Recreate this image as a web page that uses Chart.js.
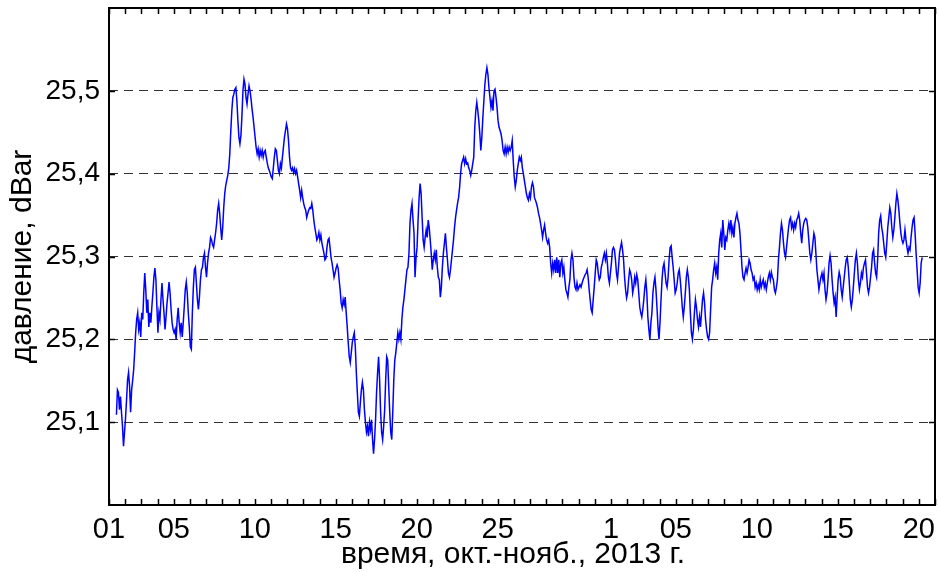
<!DOCTYPE html>
<html>
<head>
<meta charset="utf-8">
<script src="https://cdn.jsdelivr.net/npm/chart.js@4.4.1/dist/chart.umd.min.js"></script>
<style>
  html, body { margin: 0; padding: 0; background: #fff; }
  canvas { display: block; }
</style>
</head>
<body>
<canvas id="chart" width="939" height="572"></canvas>
<script>
// Bottom pressure record, one sample every 1.5 h, first sample 1 Oct 2013 11:00.
const firstSampleHour = 11;
const sampleStepHours = 1.5;

// Pressure, dBar
const pressure = [
  25.109, 25.139, 25.136, 25.115, 25.131, 25.112, 25.095, 25.071, 25.088, 25.105, 25.127, 25.151, 25.160, 25.143, 25.112, 25.139, 25.150, 25.163, 25.184, 25.208, 25.224, 25.232,
  25.212, 25.220, 25.203, 25.232, 25.224, 25.256, 25.280, 25.260, 25.232, 25.248,
  25.215, 25.232, 25.220, 25.239, 25.256, 25.275, 25.286, 25.272, 25.239,
  25.208, 25.232, 25.224, 25.248, 25.268, 25.248, 25.232, 25.212, 25.227, 25.244,
  25.256, 25.269, 25.256, 25.236, 25.220, 25.212, 25.208, 25.212, 25.200, 25.224,
  25.238, 25.220, 25.208, 25.220, 25.203, 25.220, 25.239, 25.260, 25.269, 25.256,
  25.232, 25.215, 25.191, 25.188, 25.232, 25.263, 25.284, 25.287, 25.268,
  25.248, 25.236, 25.251, 25.272, 25.284, 25.287, 25.299, 25.304, 25.287, 25.275,
  25.292, 25.304, 25.311, 25.323, 25.320, 25.314, 25.311, 25.320, 25.329, 25.340,
  25.356, 25.364, 25.352, 25.335, 25.320, 25.335, 25.359, 25.376, 25.386,
  25.392, 25.398, 25.407, 25.424, 25.452, 25.476, 25.492, 25.496, 25.502, 25.504,
  25.488, 25.464, 25.444,
  25.436, 25.446, 25.470, 25.500, 25.514, 25.508, 25.492, 25.484, 25.496, 25.506, 25.500, 25.490, 25.478, 25.468, 25.456, 25.444, 25.432, 25.424,
  25.430, 25.420, 25.428, 25.422, 25.428, 25.420, 25.426, 25.428, 25.420, 25.413, 25.407, 25.404, 25.400, 25.396, 25.394, 25.407, 25.420, 25.430, 25.428, 25.416,
  25.404, 25.400, 25.412, 25.407, 25.420, 25.432, 25.444, 25.452, 25.460, 25.454, 25.440, 25.420, 25.407, 25.404, 25.407, 25.401, 25.406, 25.400, 25.404, 25.396,
  25.388, 25.380, 25.371, 25.380, 25.371, 25.364, 25.359, 25.356, 25.347, 25.352, 25.356, 25.359, 25.358, 25.364, 25.356, 25.344, 25.335, 25.328, 25.320, 25.323,
  25.329, 25.320, 25.326, 25.316, 25.310, 25.304, 25.296, 25.298, 25.311, 25.320, 25.322, 25.311, 25.299, 25.292, 25.284, 25.275, 25.280, 25.286, 25.290, 25.286,
  25.272, 25.260, 25.244, 25.238, 25.248, 25.242, 25.251, 25.232, 25.215, 25.196, 25.179, 25.172, 25.184, 25.196, 25.203, 25.208, 25.191, 25.160, 25.136, 25.112,
  25.107, 25.124, 25.139, 25.148, 25.139, 25.115, 25.100, 25.088, 25.095, 25.083, 25.100, 25.091, 25.103, 25.080, 25.062, 25.079, 25.103, 25.136, 25.160, 25.179,
  25.151, 25.112, 25.088, 25.079, 25.095, 25.115, 25.151, 25.179, 25.175, 25.143,
  25.112, 25.088, 25.079, 25.112, 25.151, 25.175, 25.184, 25.196, 25.208, 25.200,
  25.208, 25.200, 25.224, 25.239, 25.248, 25.260, 25.272, 25.284, 25.287, 25.304,
  25.340, 25.356, 25.364, 25.344, 25.328,
  25.275, 25.299, 25.311, 25.344, 25.371, 25.388, 25.376, 25.347, 25.320, 25.311,
  25.323, 25.332, 25.323, 25.344, 25.335, 25.320, 25.304, 25.284, 25.296, 25.304,
  25.296, 25.308, 25.287, 25.275, 25.272, 25.251, 25.263, 25.287, 25.304, 25.316,
  25.328, 25.311, 25.296, 25.280, 25.275, 25.284, 25.296, 25.308, 25.320, 25.335,
  25.347, 25.356, 25.364, 25.371, 25.383, 25.400, 25.412, 25.416, 25.420, 25.412,
  25.418, 25.412, 25.413, 25.407, 25.404, 25.398, 25.404, 25.412, 25.420,
  25.456, 25.476, 25.486, 25.476, 25.464, 25.448, 25.428, 25.444, 25.468, 25.488,
  25.508, 25.520, 25.528, 25.520, 25.504, 25.492, 25.480, 25.488, 25.476, 25.500,
  25.502, 25.492, 25.480, 25.464, 25.456, 25.452, 25.448, 25.440, 25.428, 25.424,
  25.432, 25.424, 25.432, 25.426, 25.432,
  25.428, 25.432, 25.440, 25.416, 25.396, 25.384, 25.392, 25.404, 25.412, 25.420, 25.416, 25.420, 25.407, 25.400, 25.392, 25.384, 25.376, 25.371, 25.368, 25.376,
  25.371, 25.384, 25.389, 25.384, 25.371, 25.368, 25.364, 25.359, 25.352, 25.347, 25.340, 25.332, 25.323, 25.332, 25.338, 25.328, 25.320, 25.316, 25.320, 25.311,
  25.292, 25.280, 25.292, 25.284, 25.296, 25.280, 25.299, 25.280, 25.296, 25.275, 25.292, 25.296, 25.280, 25.287, 25.272, 25.260, 25.256, 25.251, 25.263, 25.272,
  25.296, 25.304, 25.296, 25.275, 25.263, 25.260, 25.268, 25.260, 25.263, 25.266, 25.263, 25.268, 25.272, 25.275, 25.278, 25.280, 25.284, 25.275, 25.260, 25.248,
  25.236, 25.232, 25.248, 25.263, 25.280, 25.296, 25.292, 25.280, 25.272, 25.275, 25.287, 25.292, 25.299, 25.304, 25.296, 25.304, 25.292, 25.275, 25.268, 25.280,
  25.292, 25.308, 25.311, 25.308, 25.296, 25.280, 25.272, 25.287, 25.304, 25.311, 25.317, 25.308, 25.296, 25.275, 25.260, 25.250, 25.256, 25.272, 25.284, 25.280,
  25.272, 25.256, 25.263, 25.275, 25.268, 25.278, 25.272, 25.256, 25.239, 25.232, 25.227, 25.236, 25.248,
  25.263, 25.272, 25.256, 25.227, 25.212, 25.200, 25.220, 25.232, 25.256, 25.268, 25.275, 25.260, 25.239, 25.215, 25.200, 25.220, 25.248, 25.272, 25.287, 25.292,
  25.280, 25.268, 25.263, 25.275, 25.296, 25.311, 25.313, 25.299, 25.287, 25.272, 25.256, 25.260, 25.268, 25.280, 25.284, 25.272, 25.256, 25.239, 25.227, 25.239,
  25.256, 25.275, 25.284, 25.275, 25.260, 25.232, 25.208, 25.200, 25.212, 25.232, 25.248, 25.239, 25.224, 25.215, 25.227, 25.215, 25.232, 25.248, 25.256, 25.244,
  25.224, 25.212, 25.203, 25.200, 25.208, 25.236, 25.263, 25.272, 25.284, 25.292, 25.280, 25.287, 25.272, 25.304, 25.320, 25.328, 25.311, 25.344, 25.328, 25.308,
  25.323, 25.320, 25.332, 25.340, 25.332, 25.344, 25.328, 25.335, 25.323, 25.340, 25.347, 25.352, 25.344, 25.340, 25.328, 25.308, 25.287, 25.275, 25.272, 25.280,
  25.286, 25.280, 25.287, 25.296, 25.292, 25.284, 25.280, 25.272, 25.275, 25.263, 25.268, 25.260, 25.266, 25.260, 25.272, 25.263, 25.268, 25.272, 25.263, 25.268,
  25.260, 25.268, 25.275, 25.280, 25.272, 25.281, 25.275, 25.272, 25.260, 25.256, 25.263, 25.272, 25.296,
  25.311, 25.328, 25.340, 25.332, 25.316, 25.304, 25.299, 25.311, 25.323, 25.335, 25.344, 25.347, 25.335, 25.340, 25.332, 25.340, 25.335, 25.344, 25.347, 25.352,
  25.344, 25.328, 25.316, 25.332, 25.340, 25.344, 25.346, 25.344, 25.335, 25.320, 25.304, 25.296, 25.304, 25.316, 25.328, 25.323, 25.304, 25.284, 25.272, 25.260,
  25.268, 25.275, 25.280, 25.272, 25.280, 25.260, 25.248, 25.256, 25.272, 25.292, 25.301, 25.292, 25.272, 25.256, 25.244, 25.251, 25.227, 25.251, 25.272, 25.281,
  25.275, 25.260, 25.251, 25.263, 25.275, 25.287, 25.296, 25.299, 25.287, 25.268, 25.248, 25.239, 25.248, 25.263, 25.280, 25.296, 25.304, 25.292, 25.272, 25.260,
  25.268, 25.280, 25.275, 25.287, 25.292, 25.296, 25.280, 25.263, 25.256, 25.263, 25.275, 25.287, 25.304, 25.308, 25.292, 25.280, 25.275, 25.296, 25.328, 25.344,
  25.349, 25.335, 25.328, 25.316, 25.304, 25.299, 25.316, 25.335, 25.347, 25.359, 25.352, 25.335, 25.323, 25.332, 25.347, 25.364, 25.376, 25.368, 25.356, 25.340,
  25.328, 25.320, 25.316, 25.320, 25.332, 25.320, 25.311, 25.304, 25.311, 25.308, 25.323, 25.335, 25.344, 25.347, 25.328, 25.304, 25.284, 25.263, 25.256, 25.268,
  25.292, 25.299
];

// Time axis: days since 1 Oct 2013 00:00
const dayRange = [0, 51];
const labelDays = [0, 4, 9, 14, 19, 24, 31, 35, 40, 45, 50];
const labelTexts = ['01', '05', '10', '15', '20', '25', '1', '05', '10', '15', '20'];

// Pressure axis
const pressureRange = [25.0, 25.6];
const pressureTicks = [25.1, 25.2, 25.3, 25.4, 25.5];

const xTitle = 'время, окт.-нояб., 2013 г.';
const yTitle = 'давление, dBar';

const points = pressure.map((v, i) => ({
  x: (firstSampleHour + i * sampleStepHours) / 24,
  y: v
}));

const fontFamily = "'Liberation Sans', Arial, Helvetica, sans-serif";
Chart.defaults.font.family = fontFamily;
Chart.defaults.color = '#000';

// Box around the plot with inward tick marks on all four sides,
// plus the time-axis caption under the tick labels.
const boxAndTicks = {
  id: 'boxAndTicks',
  afterDraw(chart) {
    const { ctx, chartArea: a, scales: { x, y } } = chart;
    const len = 6;
    ctx.save();
    ctx.strokeStyle = '#000';
    ctx.lineWidth = 1.5;
    ctx.beginPath();
    x.ticks.forEach(t => {
      const px = Math.round(x.getPixelForValue(t.value)) + 0.5;
      ctx.moveTo(px, a.bottom);
      ctx.lineTo(px, a.bottom - len);
      ctx.moveTo(px, a.top);
      ctx.lineTo(px, a.top + len);
    });
    y.ticks.forEach(t => {
      const py = Math.round(y.getPixelForValue(t.value)) + 0.5;
      ctx.moveTo(a.left, py);
      ctx.lineTo(a.left + len, py);
      ctx.moveTo(a.right, py);
      ctx.lineTo(a.right - len, py);
    });
    ctx.stroke();
    ctx.lineWidth = 2;
    ctx.strokeRect(a.left, a.top, a.right - a.left, a.bottom - a.top);

    ctx.fillStyle = '#000';
    ctx.font = '30px ' + fontFamily;
    ctx.textAlign = 'center';
    ctx.textBaseline = 'alphabetic';
    ctx.fillText(xTitle, (a.left + a.right) / 2 - 9, a.bottom + 58);
    ctx.restore();
  }
};

new Chart(document.getElementById('chart'), {
  type: 'line',
  data: {
    datasets: [{
      data: points,
      borderColor: '#0000ff',
      borderWidth: 1.5,
      pointRadius: 0,
      tension: 0,
      fill: false
    }]
  },
  options: {
    responsive: false,
    devicePixelRatio: 1,
    animation: false,
    events: [],
    parsing: false,
    layout: { padding: { top: 8, right: 4, left: 0, bottom: 0 } },
    plugins: { legend: { display: false }, tooltip: { enabled: false } },
    scales: {
      x: {
        type: 'linear',
        min: dayRange[0],
        max: dayRange[1],
        afterBuildTicks: s => {
          const t = [];
          for (let d = dayRange[0]; d <= dayRange[1]; d++) t.push({ value: d });
          s.ticks = t;
        },
        afterFit: s => { s.height = 67; s.paddingLeft = 0; s.paddingRight = 0; },
        ticks: {
          autoSkip: false,
          maxRotation: 0,
          padding: 8,
          font: { size: 29 },
          color: '#000',
          callback: v => {
            const k = labelDays.indexOf(v);
            return k >= 0 ? labelTexts[k] : '';
          }
        },
        grid: { display: false, drawTicks: false },
        border: { display: false }
      },
      y: {
        type: 'linear',
        min: pressureRange[0],
        max: pressureRange[1],
        afterBuildTicks: s => { s.ticks = pressureTicks.map(v => ({ value: v })); },
        afterFit: s => { s.width = 109; s.paddingTop = 0; s.paddingBottom = 0; },
        ticks: {
          padding: 9,
          font: { size: 28 },
          color: '#000',
          callback: v => v.toFixed(1).replace('.', ',')
        },
        grid: { color: '#333333', lineWidth: 1, drawTicks: false },
        border: { display: false, dash: [9, 6] },
        title: {
          display: true,
          text: yTitle,
          font: { size: 30, lineHeight: 1 },
          color: '#000',
          padding: { top: 8, bottom: 0 }
        }
      }
    }
  },
  plugins: [boxAndTicks]
});
</script>
</body>
</html>
